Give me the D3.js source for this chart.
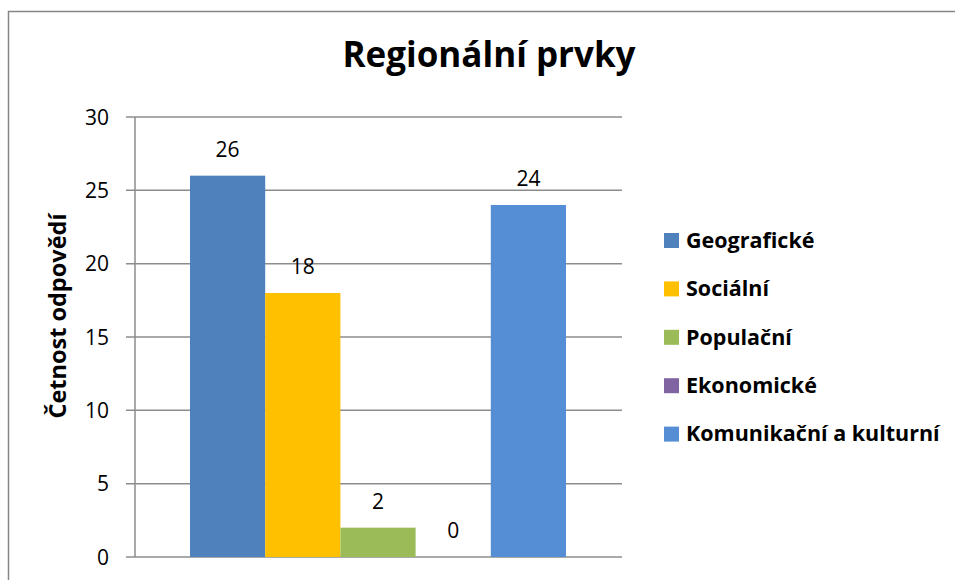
<!DOCTYPE html>
<html><head><meta charset="utf-8">
<script src="https://cdn.jsdelivr.net/npm/d3@7"></script>
<style>body{margin:0;background:#fff}svg{display:block}</style>
</head><body><svg id="c" width="955" height="580"></svg>
<script>
const categories = ["Geografické","Sociální","Populační","Ekonomické","Komunikační a kulturní"];
const values = [26,18,2,0,24];
const colors = ["#4F81BD","#FFC000","#9BBB59","#8064A2","#558ED5"];
const yTicks = [0,5,10,15,20,25,30];
const title = "Regionální prvky";
const yTitle = "Četnost odpovědí";

const FONT = "'Open Sans', sans-serif";
const svg = d3.select("#c");
// outer chart border
svg.append("path").attr("d","M8.5,580 V11.5 H955").attr("fill","none").attr("stroke","#868686").attr("stroke-width",1.5);

const plot = {left:135, right:622, top:117, bottom:557};
const y = d3.scaleLinear().domain([0,30]).range([plot.bottom, plot.top]);
const x = d3.scaleBand().domain(categories).range([190, 566]).padding(0);

// gridlines
svg.append("g").selectAll("line").data(yTicks).join("line")
  .attr("x1", plot.left-9).attr("x2", plot.right)
  .attr("y1", d=>y(d)).attr("y2", d=>y(d))
  .attr("stroke","#8c8c8c").attr("stroke-width",1.5);
// y axis line
svg.append("line").attr("x1",plot.left).attr("x2",plot.left).attr("y1",plot.top).attr("y2",plot.bottom)
  .attr("stroke","#8c8c8c").attr("stroke-width",1.5);

// tick labels
svg.append("g").selectAll("text").data(yTicks).join("text")
  .attr("x", 109).attr("y", d=>y(d)).attr("dy","0.36em")
  .attr("text-anchor","end").attr("font-family",FONT).attr("font-size",21).attr("fill","#000")
  .text(d=>d);

// bars
svg.append("g").selectAll("rect").data(values).join("rect")
  .attr("x",(d,i)=>x(categories[i])).attr("width",x.bandwidth())
  .attr("y",d=>y(d)).attr("height",d=>y(0)-y(d))
  .attr("fill",(d,i)=>colors[i]);

// data labels
svg.append("g").selectAll("text").data(values).join("text")
  .attr("x",(d,i)=>x(categories[i])+x.bandwidth()/2).attr("y",d=>y(d)-19)
  .attr("text-anchor","middle").attr("font-family",FONT).attr("font-size",21).attr("fill","#000")
  .text(d=>d);

// title
svg.append("text").attr("x",489).attr("y",67).attr("text-anchor","middle")
  .attr("font-family",FONT).attr("font-weight","bold").attr("font-size",35).attr("fill","#000").text(title);

// y axis title
svg.append("text").attr("transform","translate(66,316) rotate(-90)").attr("text-anchor","middle")
  .attr("font-family",FONT).attr("font-weight","bold").attr("font-size",23.5).attr("fill","#000").text(yTitle);

// legend
const lg = svg.append("g").selectAll("g").data(categories).join("g")
  .attr("transform",(d,i)=>`translate(664,${240+i*48.4})`);
lg.append("rect").attr("x",0).attr("y",-7).attr("width",15).attr("height",15).attr("fill",(d,i)=>colors[i]);
lg.append("text").attr("x",22).attr("y",0).attr("dy","0.36em")
  .attr("font-family",FONT).attr("font-weight","bold").attr("font-size",21.5).attr("fill","#000").text(d=>d);
</script></body></html>
